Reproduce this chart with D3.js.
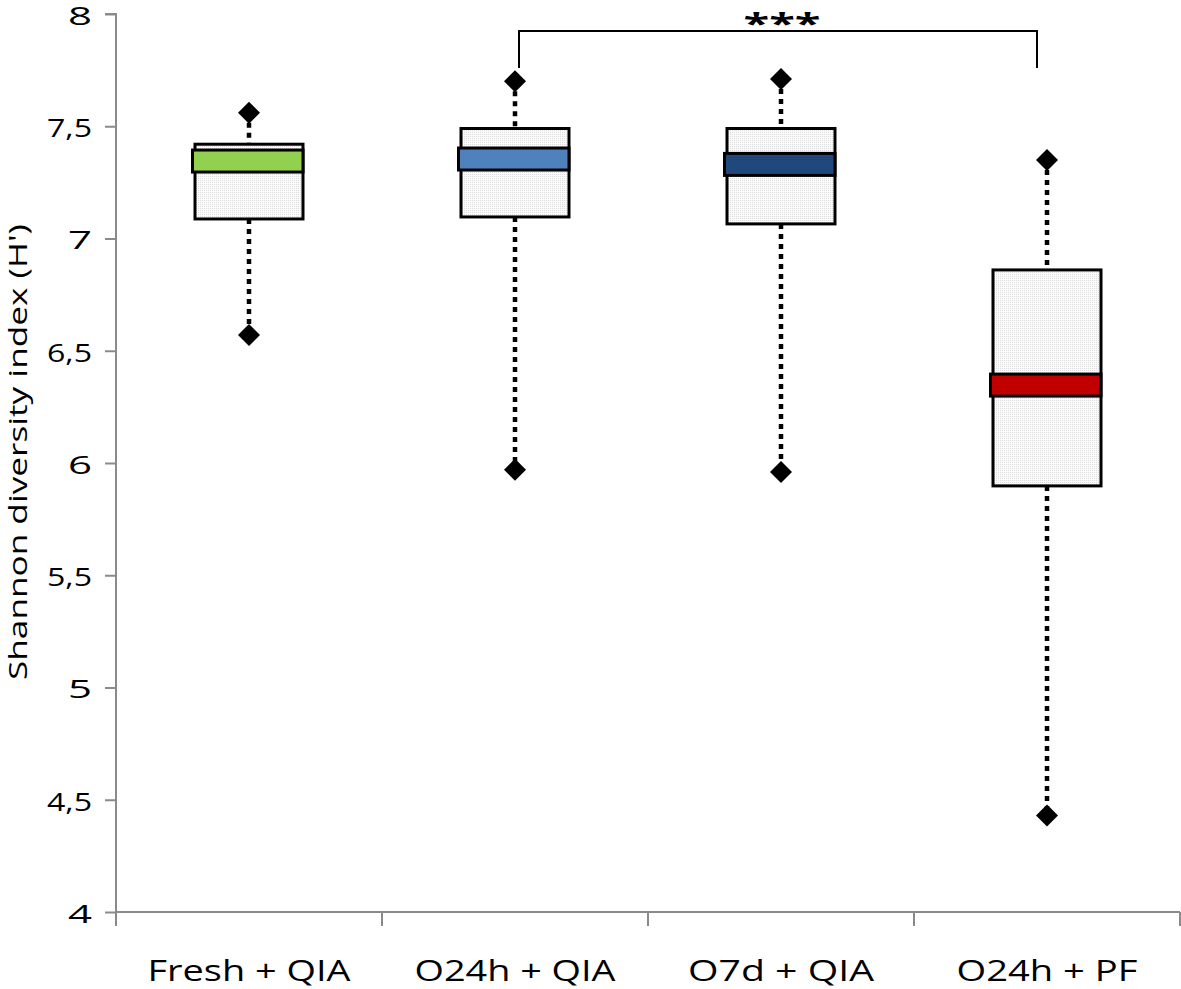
<!DOCTYPE html>
<html>
<head>
<meta charset="utf-8">
<script src="https://cdn.jsdelivr.net/npm/d3@7"></script>
<style>
  html, body { margin: 0; padding: 0; background: #fff; }
  svg { display: block; }
  text { font-family: "Open Sans", Lato, sans-serif; fill: #000; }
</style>
</head>
<body>
<svg id="chart" width="1181" height="989"></svg>
<script>
// ---- Data ----
const categories = ["Fresh + QIA", "O24h + QIA", "O7d + QIA", "O24h + PF"];
const whiskerMax = [7.56, 7.70, 7.71, 7.35];
const q3 = [7.42, 7.49, 7.49, 6.86];
const medians = [7.345, 7.354, 7.33, 6.347];
const q1 = [7.087, 7.096, 7.065, 5.898];
const whiskerMin = [6.57, 5.97, 5.96, 4.43];
const medianColors = ["#92d050", "#4f81bd", "#1f497d", "#c00000"];
const yTicks = [4, 4.5, 5, 5.5, 6, 6.5, 7, 7.5, 8];
const yTickLabels = ["4", "4,5", "5", "5,5", "6", "6,5", "7", "7,5", "8"];
const yAxisTitle = "Shannon diversity index (H')";
const sigPair = ["O24h + QIA", "O24h + PF"];
const sigLabel = "***";

// ---- Layout ----
const svg = d3.select("#chart");
const plotLeft = 116, plotRight = 1180, plotTop = 14, plotBottom = 912;
const x = d3.scaleBand().domain(categories).range([plotLeft, plotRight]).padding(0);
const y = d3.scaleLinear().domain([4, 8]).range([plotBottom, plotTop]);
const boxW = x.bandwidth() * 0.406;
const bandHalf = 0.049;
const axisColor = "#8a8a8a";

// pattern for box fill
const defs = svg.append("defs");
const pat = defs.append("pattern").attr("id", "dots").attr("width", 2).attr("height", 2)
  .attr("patternUnits", "userSpaceOnUse");
pat.append("rect").attr("width", 2).attr("height", 2).attr("fill", "#fbfbfb");
pat.append("rect").attr("width", 1).attr("height", 1).attr("fill", "#dcdcdc");

// ---- Axes ----
const yAxis = svg.append("g").attr("transform", `translate(${plotLeft},0)`)
  .call(d3.axisLeft(y).tickValues(yTicks).tickFormat((d, i) => yTickLabels[i]).tickSize(11).tickPadding(13));
yAxis.attr("font-size", null).attr("font-family", null);
yAxis.select(".domain").attr("stroke", axisColor).attr("stroke-width", 2).attr("d", `M-11,${plotTop}H0V${plotBottom}`);
yAxis.selectAll(".tick line").attr("stroke", axisColor).attr("stroke-width", 2);
yAxis.selectAll(".tick text")
  .style("font-size", "26px").style("font-family", "'Open Sans', sans-serif")
  .attr("fill", "#000").attr("dy", "0.4em")
  .attr("textLength", (d, i) => yTickLabels[i].length > 1 ? 45 : 24)
  .attr("lengthAdjust", "spacingAndGlyphs");

const xAxis = svg.append("g").attr("transform", `translate(0,${plotBottom})`);
xAxis.append("line").attr("x1", plotLeft).attr("x2", plotRight).attr("stroke", axisColor).attr("stroke-width", 2);
const bounds = categories.map(c => x(c)).concat([plotRight]);
xAxis.selectAll("line.tk").data(bounds).join("line").attr("class", "tk")
  .attr("x1", d => d).attr("x2", d => d).attr("y1", 0).attr("y2", 14)
  .attr("stroke", axisColor).attr("stroke-width", 2);
const xLabelWidths = [203, 201, 186, 181];
xAxis.selectAll("text.cat").data(categories).join("text").attr("class", "cat")
  .attr("x", d => x(d) + x.bandwidth() / 2).attr("y", 69)
  .attr("text-anchor", "middle").style("font-size", "30px")
  .attr("textLength", (d, i) => xLabelWidths[i]).attr("lengthAdjust", "spacingAndGlyphs")
  .text(d => d);

// Y axis title
svg.append("text").attr("transform", `translate(27,452) rotate(-90)`)
  .attr("text-anchor", "middle").style("font-size", "26px")
  .attr("textLength", 456).attr("lengthAdjust", "spacingAndGlyphs")
  .text(yAxisTitle);

// ---- Boxes ----
const g = svg.append("g");
const diamond = d3.symbol(d3.symbolSquare, 242);
categories.forEach((c, i) => {
  const cx = x(c) + x.bandwidth() / 2;
  g.append("line").attr("x1", cx).attr("x2", cx).attr("y1", y(whiskerMax[i])).attr("y2", y(q3[i]))
    .attr("stroke", "#000").attr("stroke-width", 4.5).attr("stroke-dasharray", "5,5");
  g.append("line").attr("x1", cx).attr("x2", cx).attr("y1", y(q1[i])).attr("y2", y(whiskerMin[i]))
    .attr("stroke", "#000").attr("stroke-width", 4.5).attr("stroke-dasharray", "5,5");
  g.append("rect").attr("x", cx - boxW / 2).attr("y", y(q3[i])).attr("width", boxW)
    .attr("height", y(q1[i]) - y(q3[i])).attr("fill", "url(#dots)").attr("stroke", "#000").attr("stroke-width", 3);
  g.append("rect").attr("x", cx - boxW / 2 - 2.5).attr("y", y(medians[i] + bandHalf)).attr("width", boxW + 2.5)
    .attr("height", y(medians[i] - bandHalf) - y(medians[i] + bandHalf))
    .attr("fill", medianColors[i]).attr("stroke", "#000").attr("stroke-width", 3);
  [whiskerMax[i], whiskerMin[i]].forEach(v => {
    g.append("path").attr("d", diamond).attr("fill", "#000")
      .attr("transform", `translate(${cx},${y(v)}) rotate(45)`);
  });
});

// ---- Significance bracket ----
const bx1 = x(sigPair[0]) + x.bandwidth() / 2 + 4;
const bx2 = x(sigPair[1]) + x.bandwidth() / 2 - 10;
svg.append("path").attr("d", `M${bx1},68V31H${bx2}V68`).attr("fill", "none").attr("stroke", "#000").attr("stroke-width", 2);
svg.append("text").attr("x", (bx1 + bx2) / 2 + 4).attr("y", 34).attr("text-anchor", "middle")
  .style("font-size", "29px").attr("font-weight", "bold")
  .attr("textLength", 77).attr("lengthAdjust", "spacingAndGlyphs").text(sigLabel);
</script>
</body>
</html>
